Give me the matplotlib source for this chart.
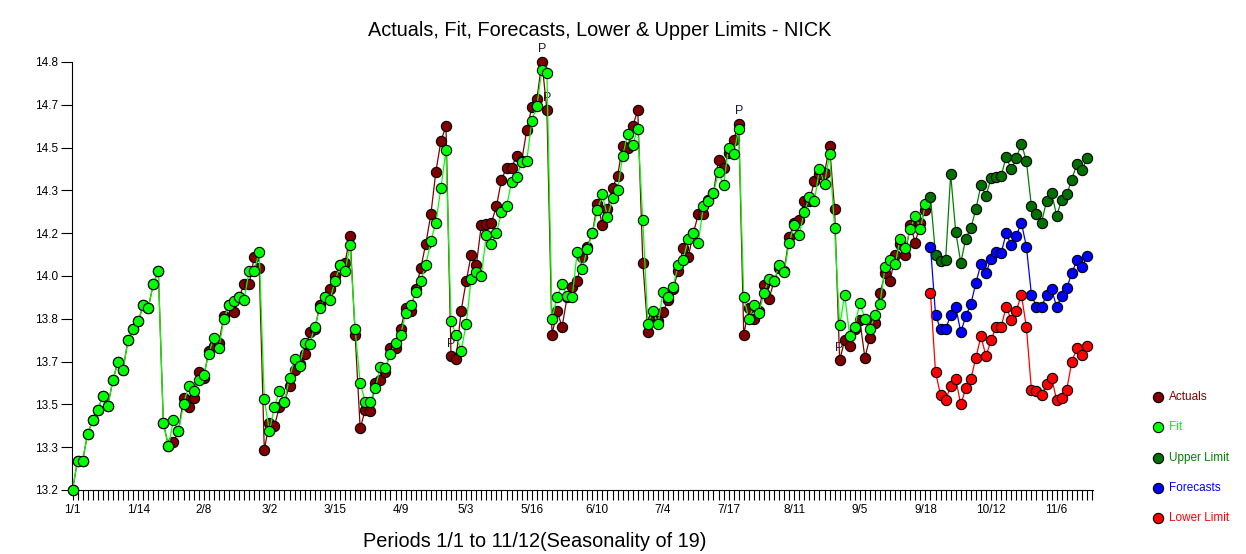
import numpy as np
from matplotlib import pyplot as plt
from matplotlib.lines import Line2D

# periods 0..169 are history, 170..201 are forecasts
actuals = [13.20, 13.31, 13.31, 13.41, 13.46, 13.50, 13.55, 13.515, 13.61, 13.68,
           13.65, 13.76, 13.80, 13.83, 13.89, 13.88, 13.97, 14.02, 13.45, 13.365,
           13.38, 13.42, 13.545, 13.51, 13.545, 13.64, 13.62, 13.72, 13.74, 13.75,
           13.85, 13.89, 13.865, 13.92, 13.97, 13.97, 14.07, 14.03, 13.35, 13.45,
           13.44, 13.51, 13.53, 13.59, 13.65, 13.67, 13.71, 13.79, 13.80, 13.89,
           13.92, 13.95, 14.00, 14.04, 14.05, 14.15, 13.78, 13.43, 13.50, 13.495,
           13.60, 13.61, 13.64, 13.73, 13.73, 13.80, 13.88, 13.87, 13.95, 14.03,
           14.12, 14.23, 14.39, 14.505, 14.56, 13.70, 13.69, 13.87, 13.98, 14.08,
           14.04, 14.19, 14.195, 14.20, 14.26, 14.36, 14.405, 14.405, 14.45, 14.43,
           14.545, 14.63, 14.66, 14.80, 14.62, 13.78, 13.87, 13.81, 13.92, 13.96,
           13.98, 14.07, 14.11, 14.16, 14.27, 14.19, 14.25, 14.33, 14.375, 14.485,
           14.48, 14.56, 14.62, 14.05, 13.79, 13.84, 13.83, 13.865, 13.91, 13.95,
           14.02, 14.105, 14.07, 14.16, 14.23, 14.23, 14.285, 14.31, 14.435, 14.405,
           14.46, 14.51, 14.57, 13.78, 13.88, 13.84, 13.87, 13.965, 13.915, 13.98,
           14.03, 14.02, 14.145, 14.20, 14.21, 14.28, 14.28, 14.355, 14.38, 14.385,
           14.485, 14.25, 13.685, 13.76, 13.74, 13.80, 13.835, 13.695, 13.77, 13.825,
           13.935, 14.01, 13.98, 14.08, 14.12, 14.08, 14.19, 14.125, 14.20, 14.245]

fit = [13.20, 13.31, 13.31, 13.41, 13.46, 13.50, 13.55, 13.515, 13.61, 13.68,
       13.65, 13.76, 13.80, 13.83, 13.89, 13.88, 13.97, 14.02, 13.45, 13.365,
       13.46, 13.42, 13.52, 13.59, 13.57, 13.61, 13.63, 13.71, 13.77, 13.73,
       13.84, 13.89, 13.905, 13.92, 13.91, 14.02, 14.02, 14.09, 13.54, 13.42,
       13.51, 13.57, 13.53, 13.62, 13.69, 13.665, 13.75, 13.745, 13.81, 13.88,
       13.92, 13.91, 13.98, 14.04, 14.02, 14.115, 13.80, 13.60, 13.53, 13.53,
       13.58, 13.66, 13.655, 13.71, 13.75, 13.78, 13.86, 13.89, 13.94, 13.98,
       14.04, 14.13, 14.20, 14.33, 14.47, 13.83, 13.78, 13.72, 13.82, 13.99,
       14.015, 14.00, 14.155, 14.12, 14.16, 14.24, 14.26, 14.35, 14.37, 14.425,
       14.43, 14.58, 14.635, 14.77, 14.76, 13.84, 13.92, 13.97, 13.925, 13.92,
       14.09, 14.025, 14.10, 14.16, 14.245, 14.305, 14.22, 14.29, 14.32, 14.45,
       14.53, 14.49, 14.55, 14.21, 13.82, 13.87, 13.82, 13.94, 13.92, 13.96,
       14.04, 14.06, 14.14, 14.16, 14.125, 14.26, 14.28, 14.31, 14.39, 14.34,
       14.48, 14.455, 14.55, 13.92, 13.84, 13.89, 13.86, 13.935, 13.99, 13.98,
       14.04, 14.015, 14.125, 14.19, 14.155, 14.24, 14.295, 14.28, 14.40, 14.345,
       14.455, 14.18, 13.815, 13.93, 13.775, 13.81, 13.90, 13.84, 13.80, 13.855,
       13.895, 14.035, 14.06, 14.045, 14.14, 14.105, 14.175, 14.225, 14.175, 14.27]

forecasts = [14.11, 13.855, 13.80, 13.80, 13.855, 13.885, 13.79, 13.85, 13.895, 13.975,
             14.045, 14.01, 14.065, 14.09, 14.085, 14.16, 14.115, 14.15, 14.20, 14.11,
             13.93, 13.885, 13.885, 13.93, 13.95, 13.885, 13.925, 13.955, 14.01, 14.06,
             14.035, 14.075]

upper = [14.295, 14.08, 14.055, 14.06, 14.38, 14.165, 14.05, 14.14, 14.18, 14.25,
         14.34, 14.30, 14.365, 14.37, 14.375, 14.445, 14.40, 14.44, 14.495, 14.43,
         14.26, 14.23, 14.20, 14.28, 14.31, 14.225, 14.285, 14.305, 14.36, 14.42,
         14.395, 14.44]

lower = [13.935, 13.64, 13.555, 13.535, 13.59, 13.615, 13.52, 13.58, 13.615, 13.695,
         13.775, 13.70, 13.76, 13.81, 13.81, 13.885, 13.835, 13.87, 13.93, 13.81,
         13.575, 13.57, 13.555, 13.595, 13.62, 13.535, 13.545, 13.575, 13.68, 13.73,
         13.705, 13.74]

# periods flagged with a "P"
flagged = [75, 93, 94, 132, 152]

x_labels = ["1/1", "1/14", "2/8", "3/2", "3/15", "4/9", "5/3", "5/16",
            "6/10", "7/4", "7/17", "8/11", "9/5", "9/18", "10/12", "11/6"]
y_labels = ["13.2", "13.3", "13.5", "13.7", "13.8", "14.0",
            "14.2", "14.3", "14.5", "14.7", "14.8"]

plt.rcParams['font.family'] = ['Liberation Sans', 'DejaVu Sans']

x_hist = np.arange(len(actuals))
x_fc = np.arange(len(actuals), len(actuals) + len(forecasts))

fig = plt.figure(figsize=(12.46, 5.54), dpi=100)
ax = fig.add_axes([72/1246, 1 - 490/554, (1093 - 72)/1246, (490 - 62)/554])

mk = dict(marker='o', markersize=7.4, markeredgecolor='black', markeredgewidth=0.8,
          linewidth=0.9, clip_on=False)

ax.plot(x_hist, actuals, color='#800000', markerfacecolor='#800000', zorder=3, **mk)
ax.plot(x_hist, fit, color='#00ff00', markerfacecolor='#00ff00', zorder=4, **mk)
ax.plot(x_fc, upper, color='#008000', markerfacecolor='#007000', zorder=4, **mk)
ax.plot(x_fc, forecasts, color='#0000ff', markerfacecolor='#0000ff', zorder=4, **mk)
ax.plot(x_fc, lower, color='#ff0000', markerfacecolor='#ff0000', zorder=4, **mk)

for i in flagged:
    ax.annotate("P", (i, actuals[i]), xytext=(0, 9), textcoords='offset points',
                ha='center', va='center', fontsize=9, color='#1a1a33', zorder=2,
                annotation_clip=False)

ax.set_xlim(-0.1, 202.2)
ax.set_ylim(13.2, 14.8)

ax.set_xticks(np.arange(0, 13 * len(x_labels), 13))
ax.set_xticklabels(x_labels, fontsize=8.5)
ax.set_xticks(np.arange(0, 203), minor=True)
ax.tick_params(axis='x', which='both', direction='out', length=7, width=0.8, pad=3)

ax.set_yticks(np.linspace(13.2, 14.8, len(y_labels)))
ax.set_yticklabels(y_labels, fontsize=8.5)
ax.tick_params(axis='y', direction='out', length=8, width=0.8, pad=2)

ax.spines['top'].set_visible(False)
ax.spines['right'].set_visible(False)

fig.text(0.481, 0.945, "Actuals, Fit, Forecasts, Lower & Upper Limits - NICK",
         ha='center', va='center', fontsize=14.3)
fig.text(0.429, 0.022, "Periods 1/1 to 11/12(Seasonality of 19)",
         ha='center', va='center', fontsize=14.3)

# legend on the right
legend_items = [("Actuals", '#800000', '#800000'),
                ("Fit", '#00ff00', '#00ff00'),
                ("Upper Limit", '#007000', '#008000'),
                ("Forecasts", '#0000ff', '#0000ff'),
                ("Lower Limit", '#ff0000', '#ff0000')]
for k, (name, face, txt) in enumerate(legend_items):
    yy = 1 - (396.7 + 30.4 * k) / 554
    fig.add_artist(Line2D([1158/1246], [yy], marker='o', markersize=7.4,
                          markerfacecolor=face, markeredgecolor='black',
                          markeredgewidth=0.8, linestyle='none',
                          transform=fig.transFigure))
    fig.text(1169/1246, yy, name, ha='left', va='center', fontsize=8.5, color=txt)

fig.savefig("out.png", dpi=100)
